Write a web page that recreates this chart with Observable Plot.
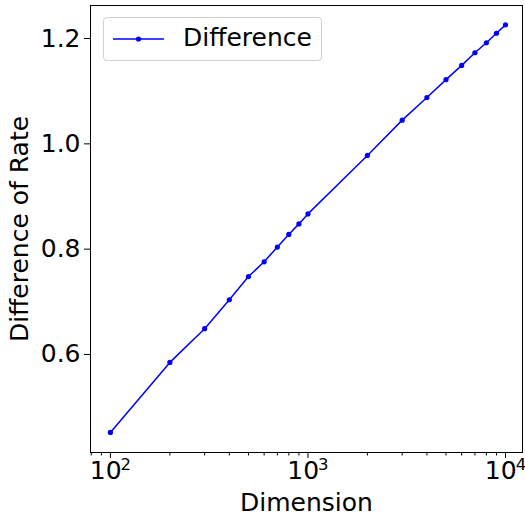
<!DOCTYPE html>
<html>
<head>
<meta charset="utf-8">
<script src="https://cdn.jsdelivr.net/npm/d3@7"></script>
<script src="https://cdn.jsdelivr.net/npm/@observablehq/plot@0.6"></script>
<style>
  html, body { margin: 0; padding: 0; background: #fff; }
  #wrap { position: relative; width: 525px; height: 517px; font-family: "DejaVu Sans", sans-serif; }
  #wrap > svg { overflow: visible; }
  #legend { position: absolute; left: 103px; top: 17px; width: 219px; height: 44px;
    border: 1px solid #d0d0d0; border-radius: 4px; background: rgba(255,255,255,0.8); box-sizing: border-box; }
  #legend svg { position: absolute; left: 0; top: 0; }
  #legend span { position: absolute; left: 79px; top: 5px; font-size: 25px; line-height: 30px; color: #000; }
</style>
</head>
<body>
<div id="wrap"></div>
<script>
const dimensions = [100, 200, 300, 400, 500, 600, 700, 800, 900, 1000, 2000, 3000, 4000, 5000, 6000, 7000, 8000, 9000, 10000];
const difference = [0.452, 0.585, 0.649, 0.704, 0.748, 0.776, 0.804, 0.828, 0.848, 0.867, 0.978, 1.045, 1.088, 1.122, 1.149, 1.173, 1.192, 1.210, 1.226];
const seriesName = "Difference";
const xMajorTicks = [100, 1000, 10000];
const xMajorBase = ["10", "10", "10"];
const xMajorExponents = ["2", "3", "4"];
const xMinorTicks = [80, 90, 200, 300, 400, 500, 600, 700, 800, 900, 2000, 3000, 4000, 5000, 6000, 7000, 8000, 9000];
const yTicks = [0.6, 0.8, 1.0, 1.2];
const xLabel = "Dimension";
const yLabel = "Difference of Rate";

const data = dimensions.map((d, i) => ({dim: d, diff: difference[i]}));
const blue = "#0000ff";

const chart = Plot.plot({
  width: 525,
  height: 517,
  marginLeft: 90,
  marginRight: 3,
  marginTop: 5,
  marginBottom: 65,
  style: {fontFamily: "DejaVu Sans, sans-serif", fontSize: "25px", color: "#000", background: "#fff"},
  x: {type: "log", domain: [79.3, 12190]},
  y: {domain: [0.4139, 1.2627]},
  marks: [
    Plot.axisX(xMinorTicks, {tickSize: 3.5, tickFormat: () => "", label: null, stroke: "#000"}),
    Plot.axisX(xMajorTicks, {tickSize: 6, tickPadding: 3, fontSize: 25,
      tickFormat: (d) => xMajorBase[xMajorTicks.indexOf(d)] + "|" + xMajorExponents[xMajorTicks.indexOf(d)],
      label: xLabel, labelAnchor: "center", labelArrow: "none", labelOffset: 58, fill: "#000", stroke: "#000"}),
    Plot.axisY(yTicks, {tickSize: 6, tickPadding: 4, fontSize: 25, tickFormat: (d) => d.toFixed(1),
      label: yLabel, labelAnchor: "center", labelArrow: "none", labelOffset: 80, fill: "#000", stroke: "#000"}),
    Plot.line(data, {x: "dim", y: "diff", stroke: blue, strokeWidth: 1.5}),
    Plot.dot(data, {x: "dim", y: "diff", fill: blue, r: 2.6}),
    Plot.frame({stroke: "#000", strokeWidth: 1})
  ]
});
// turn "10|2" tick labels into base + superscript exponent
d3.select(chart).selectAll("text").each(function() {
  const t = this.textContent;
  if (t.includes("|")) {
    const [base, exp] = t.split("|");
    const sel = d3.select(this);
    sel.text(null);
    sel.append("tspan").text(base);
    sel.append("tspan").attr("font-size", "16.5px").attr("dx", "-1").attr("dy", "-0.58em").text(exp);
  }
});
const wrap = document.getElementById("wrap");
wrap.appendChild(chart);

const legend = document.createElement("div");
legend.id = "legend";
legend.innerHTML = `<svg width="219" height="44"><line x1="9" x2="60" y1="21" y2="21" stroke="${blue}" stroke-width="1.5"/><circle cx="34.5" cy="21" r="2.6" fill="${blue}"/></svg><span></span>`;
legend.querySelector("span").textContent = seriesName;
wrap.appendChild(legend);
</script>
</body>
</html>
